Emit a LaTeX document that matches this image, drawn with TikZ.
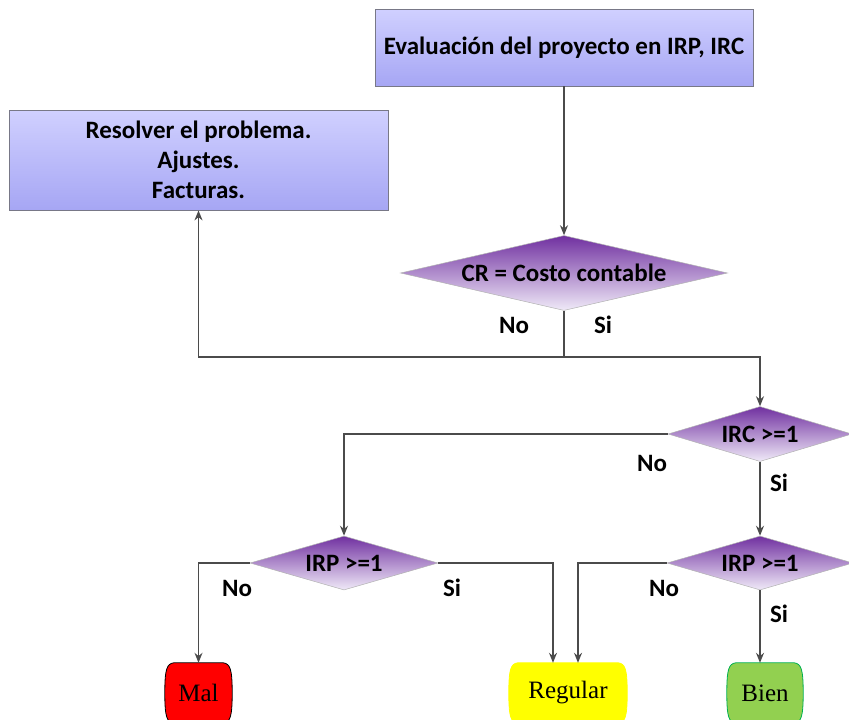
\documentclass[tikz,border=0pt]{standalone}
\usepackage{fontspec}
\setmainfont{Carlito}
\newfontfamily\serifface{Liberation Serif}
\usetikzlibrary{shapes.geometric,arrows.meta,calc,backgrounds}

\definecolor{boxtop}{RGB}{208,208,255}
\definecolor{boxbot}{RGB}{166,166,244}
\definecolor{boxline}{RGB}{120,120,135}
\definecolor{dtop}{RGB}{112,48,160}
\definecolor{dmid}{RGB}{162,122,200}
\definecolor{dbot}{RGB}{240,234,248}
\definecolor{wire}{RGB}{75,75,75}
\definecolor{malfill}{RGB}{255,0,0}
\definecolor{regfill}{RGB}{255,255,0}
\definecolor{bienfill}{RGB}{146,208,80}
\definecolor{bienline}{RGB}{0,176,80}

% barrel-shaped terminal drawn around an existing node
\newcommand\barrelaround[3]{%
  \path[fill=#2,draw=#3,line width=0.8pt]
    ($(#1.north west)+(9,0)$) -- ($(#1.north east)+(-9,0)$)
    .. controls ($(#1.north east)+(-2,1)$) and ($(#1.east)+(0,-24)$) .. (#1.east)
    .. controls ($(#1.east)+(0,24)$) and ($(#1.south east)+(-2,-1)$) .. ($(#1.south east)+(-9,0)$)
    -- ($(#1.south west)+(9,0)$)
    .. controls ($(#1.south west)+(2,-1)$) and ($(#1.west)+(0,24)$) .. (#1.west)
    .. controls ($(#1.west)+(0,-24)$) and ($(#1.north west)+(2,1)$) .. cycle;}

\begin{document}
\begin{tikzpicture}[x=1pt,y=-1pt,
  every node/.style={font=\fontsize{25}{30}\selectfont\bfseries},
  procbox/.style={rectangle, draw=boxline, line width=0.8pt,
    top color=boxtop, bottom color=boxbot, inner sep=0pt, align=center},
  decision/.style={diamond, draw=gray!60, line width=0.5pt,
    top color=dtop, middle color=dmid, bottom color=dbot, inner sep=0pt},
  terminal/.style={inner sep=0pt, minimum height=60,
    font=\fontsize{25}{30}\selectfont\serifface},
  lbl/.style={inner sep=0pt},
  wireline/.style={draw=wire, line width=1.3pt},
  flow/.style={wireline, -{Stealth[length=10pt,width=8pt]}}
]
\useasboundingbox (0,0) rectangle (849,720);
\clip (0,0) rectangle (849,720);

% process boxes
\node[procbox, minimum width=378, minimum height=77] (eval) at (564,47.5)
  {\raisebox{-4pt}{Evaluación del proyecto en IRP, IRC}};
\node[procbox, minimum width=379, minimum height=100] (res) at (198.5,160)
  {Resolver el problema.\\Ajustes.\\Facturas.};

% decisions
\node[decision, minimum width=327, minimum height=75, aspect=4.4] (cr) at (564,273)
  {CR = Costo contable};
\node[decision, minimum width=184, minimum height=55, aspect=3.3] (irc) at (760,434)
  {IRC >=1};
\node[decision, minimum width=188, minimum height=54, aspect=3.4] (irpl) at (344,563)
  {IRP >=1};
\node[decision, minimum width=186, minimum height=54, aspect=3.4] (irpr) at (760,563)
  {IRP >=1};

% terminals
\node[terminal, minimum width=67]  (mal)  at (198.5,693) {Mal};
\node[terminal, minimum width=118] (reg)  at (568,693)   {Regular};
\node[terminal, minimum width=76]  (bien) at (765,693)   {Bien};
\begin{scope}[on background layer]
  \barrelaround{mal}{malfill}{black}
  \barrelaround{reg}{regfill}{regfill}
  \barrelaround{bien}{bienfill}{bienline}
\end{scope}

% branch labels
\node[lbl] (crno)   at (514,325) {No};
\node[lbl] (crsi)   at (603,325) {Si};
\node[lbl] (ircno)  at (652,463) {No};
\node[lbl] (ircsi)  at (779,483) {Si};
\node[lbl] (irplno) at (237,588) {No};
\node[lbl] (irplsi) at (452,588) {Si};
\node[lbl] (irprno) at (664,588) {No};
\node[lbl] (irprsi) at (779,614) {Si};

% connectors
\coordinate (split) at (564,357);
\coordinate (regin1) at ($(reg.north)+(-15,0)$);
\coordinate (regin2) at ($(reg.north)+(10,0)$);

\draw[flow] (eval.south) -- (cr.north);
\draw[wireline] (cr.south) -- (split);
\draw[flow] (split) -| (res.south);
\draw[flow] (split) -| (irc.north);
\draw[flow] (irc.west) -| (irpl.north);
\draw[flow] (irc.south) -- (irpr.north);
\draw[flow] (irpl.west) -| (mal.north);
\draw[flow] (irpl.east) -| (regin1);
\draw[flow] (irpr.west) -| (regin2);
\draw[flow] (irpr.south) -- (irpr.south |- bien.north);
\end{tikzpicture}
\end{document}
